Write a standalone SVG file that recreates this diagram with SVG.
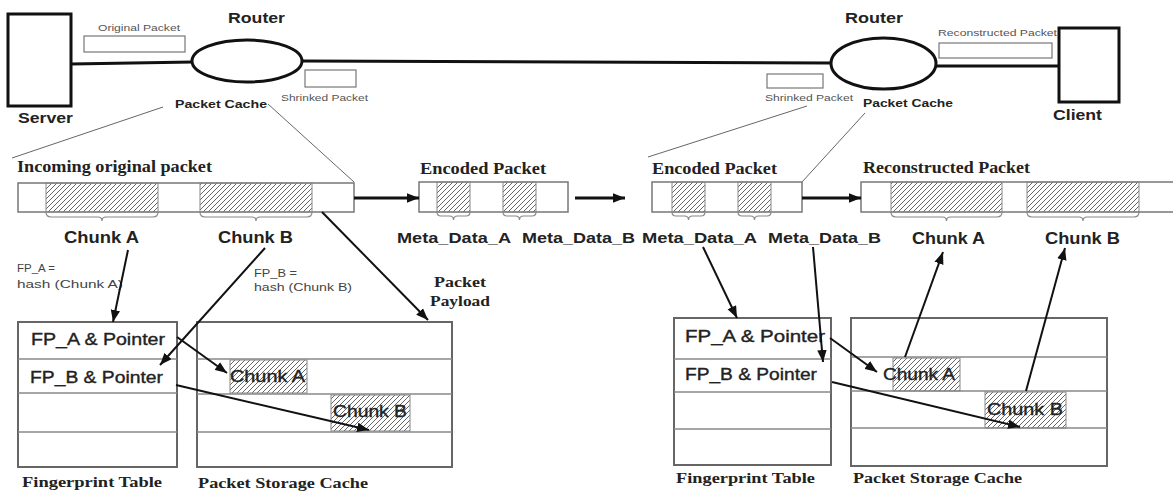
<svg xmlns="http://www.w3.org/2000/svg" width="1173" height="493" viewBox="0 0 1173 493">
  <defs>
    <pattern id="hatch" patternUnits="userSpaceOnUse" width="5" height="5">
      <path d="M-1,1 L1,-1 M0,5 L5,0 M4,6 L6,4" stroke="#666" stroke-width="1"/>
    </pattern>
    <marker id="ah" markerUnits="userSpaceOnUse" markerWidth="13" markerHeight="10" refX="12" refY="4.75" orient="auto">
      <path d="M0,0 L12,4.75 L0,9.5 z" fill="#111"/>
    </marker>
  </defs>
  <style>
    .sans { font-family: "Liberation Sans", Arial, sans-serif; }
    .serif { font-family: "Liberation Serif", "Times New Roman", serif; font-weight: bold; fill: #222; }
    .bold { font-weight: bold; fill: #222; }
    .tiny { font-size: 9px; fill: #555; }
    .note { font-size: 10.5px; fill: #444; }
    .link { fill: none; stroke: #111; stroke-width: 3; }
    .thin { fill: none; stroke: #666; stroke-width: 1; }
    .pkt { fill: #fff; stroke: #777; stroke-width: 1.5; }
    .small { fill: #fff; stroke: #777; stroke-width: 1.2; }
    .hatch { fill: url(#hatch); stroke: #888; stroke-width: 1; }
    .brace { fill: none; stroke: #888; stroke-width: 1.2; }
    .tbl { fill: #fff; stroke: #666; stroke-width: 2; }
    .row { stroke: #888; stroke-width: 1.5; }
    .arr { fill: none; stroke: #111; stroke-width: 2; marker-end: url(#ah); }
    .arr3 { fill: none; stroke: #111; stroke-width: 3; marker-end: url(#ah); }
    .cell { font-size: 16px; fill: #222; stroke: #222; stroke-width: 0.35; }
  </style>
  <rect width="1173" height="493" fill="#fff"/>

  <!-- network links -->
  <g id="links">
    <path class="link" d="M71,64 L193,62"/>
    <path class="link" d="M302,61 L831,63"/>
    <path class="link" d="M936,66 L1059,66"/>
    <path class="thin" d="M163,107 L12,158"/>
    <path class="thin" d="M268,104 L354,182"/>
    <path class="thin" d="M807,106 L648,157"/>
    <path class="thin" d="M865,113 L802,182"/>
  </g>

  <g id="server">
    <rect x="8" y="14" width="63" height="92" fill="#fff" stroke="#111" stroke-width="3"/>
    <text class="sans bold" x="18" y="123" font-size="15" textLength="55" lengthAdjust="spacingAndGlyphs">Server</text>
  </g>

  <g id="router-left">
    <ellipse cx="247" cy="61" rx="55" ry="21" fill="#fff" stroke="#111" stroke-width="3"/>
    <text class="sans bold" x="228" y="23" font-size="14" textLength="57" lengthAdjust="spacingAndGlyphs">Router</text>
    <text class="sans bold" x="175" y="108" font-size="11.5" textLength="92" lengthAdjust="spacingAndGlyphs">Packet Cache</text>
  </g>

  <g id="original-packet">
    <text class="sans tiny" x="98" y="31" textLength="82" lengthAdjust="spacingAndGlyphs">Original Packet</text>
    <rect class="small" x="84" y="36" width="101" height="16"/>
  </g>

  <g id="shrinked-packet-left">
    <rect class="small" x="305" y="70" width="51" height="17"/>
    <text class="sans tiny" x="281" y="101" textLength="87" lengthAdjust="spacingAndGlyphs">Shrinked Packet</text>
  </g>

  <g id="router-right">
    <ellipse cx="883.5" cy="63.5" rx="52.5" ry="25.5" fill="#fff" stroke="#111" stroke-width="3"/>
    <text class="sans bold" x="845" y="23" font-size="14" textLength="58" lengthAdjust="spacingAndGlyphs">Router</text>
    <text class="sans bold" x="863" y="107" font-size="11.5" textLength="90" lengthAdjust="spacingAndGlyphs">Packet Cache</text>
  </g>

  <g id="shrinked-packet-right">
    <rect class="small" x="767" y="74" width="56" height="14"/>
    <text class="sans tiny" x="765" y="101" textLength="88" lengthAdjust="spacingAndGlyphs">Shrinked Packet</text>
  </g>

  <g id="reconstructed-packet-top">
    <text class="sans tiny" x="938" y="36" textLength="119" lengthAdjust="spacingAndGlyphs">Reconstructed Packet</text>
    <rect class="small" x="939" y="43" width="113" height="15"/>
  </g>

  <g id="client">
    <rect x="1059" y="28" width="60" height="74" fill="#fff" stroke="#111" stroke-width="3"/>
    <text class="sans bold" x="1053" y="120" font-size="15" textLength="49" lengthAdjust="spacingAndGlyphs">Client</text>
  </g>

  <!-- incoming original packet -->
  <g id="incoming-packet">
    <text class="serif" x="17" y="172" font-size="16" textLength="195" lengthAdjust="spacingAndGlyphs">Incoming original packet</text>
    <rect class="pkt" x="18" y="183" width="336" height="29"/>
    <rect class="hatch" x="46" y="183" width="112" height="29"/>
    <rect class="hatch" x="200" y="183" width="112" height="29"/>
    <path class="brace" d="M46,212 q0,5 5,5 H98 q4,0 4,4 q0,-4 4,-4 H153 q5,0 5,-5"/>
    <path class="brace" d="M200,212 q0,5 5,5 H252 q4,0 4,4 q0,-4 4,-4 H307 q5,0 5,-5"/>
    <text class="sans bold" x="64" y="243" font-size="16" textLength="75" lengthAdjust="spacingAndGlyphs">Chunk A</text>
    <text class="sans bold" x="218" y="243" font-size="16" textLength="75" lengthAdjust="spacingAndGlyphs">Chunk B</text>
    <text class="sans note" x="17" y="272" textLength="38" lengthAdjust="spacingAndGlyphs">FP_A =</text>
    <text class="sans note" x="17" y="288" textLength="106" lengthAdjust="spacingAndGlyphs">hash (Chunk A)</text>
    <text class="sans note" x="254" y="277" textLength="43" lengthAdjust="spacingAndGlyphs">FP_B =</text>
    <text class="sans note" x="254" y="291" textLength="98" lengthAdjust="spacingAndGlyphs">hash (Chunk B)</text>
  </g>

  <g id="encoded-packet-left">
    <text class="serif" x="420" y="174" font-size="16" textLength="126" lengthAdjust="spacingAndGlyphs">Encoded Packet</text>
    <rect class="pkt" x="419" y="182" width="149" height="30"/>
    <rect class="hatch" x="437" y="182" width="33" height="30"/>
    <rect class="hatch" x="503" y="182" width="33" height="30"/>
    <path class="brace" d="M437,212 q0,4 4,4 H449.5 q4,0 4,4 q0,-4 4,-4 H466 q4,0 4,-4"/>
    <path class="brace" d="M503,212 q0,4 4,4 H515.5 q4,0 4,4 q0,-4 4,-4 H532 q4,0 4,-4"/>
    <text class="sans bold" x="397" y="243" font-size="15" textLength="114" lengthAdjust="spacingAndGlyphs">Meta_Data_A</text>
    <text class="sans bold" x="522" y="243" font-size="15" textLength="113" lengthAdjust="spacingAndGlyphs">Meta_Data_B</text>
  </g>

  <g id="encoded-packet-right">
    <text class="serif" x="652" y="174" font-size="16" textLength="125" lengthAdjust="spacingAndGlyphs">Encoded Packet</text>
    <rect class="pkt" x="652" y="182" width="150" height="30"/>
    <rect class="hatch" x="672" y="182" width="33" height="30"/>
    <rect class="hatch" x="738" y="182" width="33" height="30"/>
    <path class="brace" d="M672,212 q0,4 4,4 H684.5 q4,0 4,4 q0,-4 4,-4 H701 q4,0 4,-4"/>
    <path class="brace" d="M738,212 q0,4 4,4 H750.5 q4,0 4,4 q0,-4 4,-4 H767 q4,0 4,-4"/>
    <text class="sans bold" x="642" y="243" font-size="15" textLength="115" lengthAdjust="spacingAndGlyphs">Meta_Data_A</text>
    <text class="sans bold" x="768" y="243" font-size="15" textLength="113" lengthAdjust="spacingAndGlyphs">Meta_Data_B</text>
  </g>

  <g id="reconstructed-packet">
    <text class="serif" x="863" y="173" font-size="16" textLength="167" lengthAdjust="spacingAndGlyphs">Reconstructed Packet</text>
    <rect class="pkt" x="861" y="182" width="320" height="30"/>
    <rect class="hatch" x="891" y="182" width="111" height="30"/>
    <rect class="hatch" x="1027" y="182" width="112" height="30"/>
    <path class="brace" d="M891,212 q0,5 5,5 H942.5 q4,0 4,4 q0,-4 4,-4 H997 q5,0 5,-5"/>
    <path class="brace" d="M1027,212 q0,5 5,5 H1079 q4,0 4,4 q0,-4 4,-4 H1134 q5,0 5,-5"/>
    <text class="sans bold" x="912" y="244" font-size="16" textLength="73" lengthAdjust="spacingAndGlyphs">Chunk A</text>
    <text class="sans bold" x="1045" y="244" font-size="16" textLength="75" lengthAdjust="spacingAndGlyphs">Chunk B</text>
  </g>

  <g id="payload-label">
    <text class="serif" x="434" y="287" font-size="15" textLength="52" lengthAdjust="spacingAndGlyphs">Packet</text>
    <text class="serif" x="430" y="306" font-size="15" textLength="60" lengthAdjust="spacingAndGlyphs">Payload</text>
  </g>

  <!-- sender side tables -->
  <g id="fingerprint-table-left">
    <rect class="tbl" x="18" y="322" width="159" height="145"/>
    <line class="row" x1="18" y1="359" x2="177" y2="359"/>
    <line class="row" x1="18" y1="393" x2="177" y2="393"/>
    <line class="row" x1="18" y1="432" x2="177" y2="432"/>
    <text class="sans cell" x="31" y="345" textLength="134" lengthAdjust="spacingAndGlyphs">FP_A &amp; Pointer</text>
    <text class="sans cell" x="30" y="383" textLength="133" lengthAdjust="spacingAndGlyphs">FP_B &amp; Pointer</text>
    <text class="serif" x="22" y="487" font-size="15" textLength="140" lengthAdjust="spacingAndGlyphs">Fingerprint Table</text>
  </g>

  <g id="storage-cache-left">
    <rect class="tbl" x="197" y="322" width="255" height="145"/>
    <line class="row" x1="197" y1="359" x2="452" y2="359"/>
    <line class="row" x1="197" y1="394" x2="452" y2="394"/>
    <line class="row" x1="197" y1="432" x2="452" y2="432"/>
    <rect class="hatch" x="230" y="360" width="77" height="33"/>
    <rect class="hatch" x="331" y="395" width="79" height="36"/>
    <text class="sans cell" x="230" y="382" textLength="75" lengthAdjust="spacingAndGlyphs">Chunk A</text>
    <text class="sans cell" x="333" y="417" textLength="74" lengthAdjust="spacingAndGlyphs">Chunk B</text>
    <text class="serif" x="198" y="488" font-size="15" textLength="170" lengthAdjust="spacingAndGlyphs">Packet Storage Cache</text>
  </g>

  <!-- receiver side tables -->
  <g id="fingerprint-table-right">
    <rect class="tbl" x="674" y="318" width="157" height="147"/>
    <line class="row" x1="674" y1="359" x2="831" y2="359"/>
    <line class="row" x1="674" y1="392" x2="831" y2="392"/>
    <line class="row" x1="674" y1="429" x2="831" y2="429"/>
    <text class="sans cell" x="685" y="342" textLength="140" lengthAdjust="spacingAndGlyphs">FP_A &amp; Pointer</text>
    <text class="sans cell" x="685" y="380" textLength="132" lengthAdjust="spacingAndGlyphs">FP_B &amp; Pointer</text>
    <text class="serif" x="676" y="483" font-size="15" textLength="139" lengthAdjust="spacingAndGlyphs">Fingerprint Table</text>
  </g>

  <g id="storage-cache-right">
    <rect class="tbl" x="851" y="318" width="256" height="148"/>
    <line class="row" x1="851" y1="357" x2="1107" y2="357"/>
    <line class="row" x1="851" y1="391" x2="1107" y2="391"/>
    <line class="row" x1="851" y1="428" x2="1107" y2="428"/>
    <rect class="hatch" x="893" y="358" width="67" height="33"/>
    <rect class="hatch" x="985" y="392" width="81" height="36"/>
    <text class="sans cell" x="883" y="380" textLength="72" lengthAdjust="spacingAndGlyphs">Chunk A</text>
    <text class="sans cell" x="987" y="415" textLength="76" lengthAdjust="spacingAndGlyphs">Chunk B</text>
    <text class="serif" x="853" y="483" font-size="15" textLength="169" lengthAdjust="spacingAndGlyphs">Packet Storage Cache</text>
  </g>

  <!-- data flow arrows -->
  <g id="connectors">
    <path class="arr3" d="M354,198 L419,198"/>
    <path class="arr3" d="M575,198 L625,198"/>
    <path class="arr3" d="M802,198 L861,198"/>
    <path class="arr" d="M128,250 L113,322"/>
    <path class="arr" d="M265,248 L160,365"/>
    <path class="arr" d="M322,212 L428,320"/>
    <path class="arr" d="M177,337 L227,373"/>
    <path class="arr" d="M176,385 L369,430"/>
    <path class="arr" d="M703,247 L737,318"/>
    <path class="arr" d="M813,247 L823,362"/>
    <path class="arr" d="M830,338 L877,372"/>
    <path class="arr" d="M832,382 L1020,427"/>
    <path class="arr" d="M905,357 L943,252"/>
    <path class="arr" d="M1026,391 L1065,248"/>
  </g>
</svg>
